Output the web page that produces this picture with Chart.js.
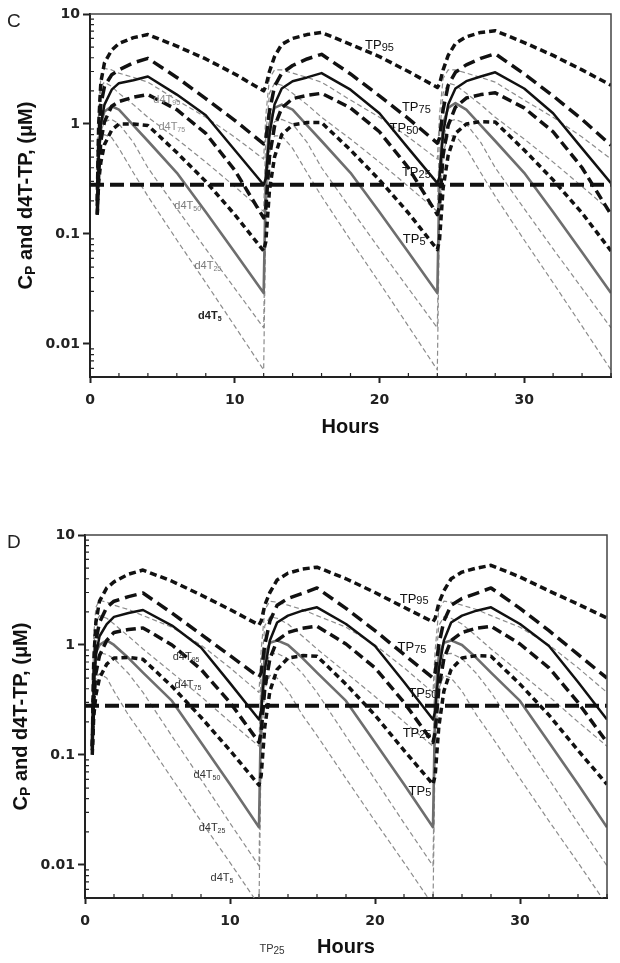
<!DOCTYPE html>
<html lang="en">
<head>
<meta charset="UTF-8" />
<title>Cp and d4T-TP</title>
<style>
  body { margin: 0; background: #fff; }
  canvas { position: absolute; left: 0; }
  #chartC { top: 0; }
  #chartD { top: 470px; }
</style>
</head>
<body>
<canvas id="chartC" width="620" height="470"></canvas>
<canvas id="chartD" width="620" height="493"></canvas>

<script src="https://cdn.jsdelivr.net/npm/chart.js"></script>
<script>
// time grid (hours) shared by every curve
const hours = [0.5, 0.6, 0.75, 1, 1.5, 2, 3, 4, 6, 8, 10, 12,
  12.15, 12.4, 12.75, 13.25, 14, 15, 16, 18, 20, 22, 24,
  24.15, 24.4, 24.75, 25.25, 26, 27, 28, 30, 32, 34, 36];

// panel C
const tp95C = [0.2, 1.0, 2.4, 3.6, 4.7, 5.4, 6.1, 6.5, 5.1, 3.9, 2.85, 2.0,
  2.2, 3.0, 4.1, 5.3, 6.0, 6.5, 6.8, 5.3, 4.1, 3.0, 2.15,
  2.3, 3.1, 4.2, 5.4, 6.2, 6.8, 7.05, 5.5, 4.2, 3.1, 2.25];
const tp75C = [0.18, 0.7, 1.5, 2.2, 2.8, 3.1, 3.6, 3.95, 2.65, 1.7, 1.08, 0.66,
  0.72, 1.3, 2.2, 2.9, 3.4, 3.9, 4.3, 2.85, 1.8, 1.12, 0.67,
  0.74, 1.35, 2.25, 2.95, 3.45, 3.95, 4.35, 2.85, 1.8, 1.1, 0.64];
const tp50C = [0.15, 0.5, 1.0, 1.5, 2.05, 2.35, 2.5, 2.7, 1.85, 1.2, 0.58, 0.28,
  0.32, 0.8, 1.5, 2.1, 2.45, 2.65, 2.9, 2.05, 1.25, 0.6, 0.29,
  0.33, 0.82, 1.5, 2.1, 2.45, 2.7, 2.95, 2.1, 1.25, 0.6, 0.29];
const tp25C = [0.15, 0.35, 0.7, 1.05, 1.45, 1.6, 1.75, 1.85, 1.35, 0.82, 0.38, 0.14,
  0.17, 0.5, 0.95, 1.4, 1.7, 1.82, 1.9, 1.4, 0.85, 0.4, 0.15,
  0.18, 0.52, 0.97, 1.42, 1.72, 1.85, 1.92, 1.4, 0.85, 0.4, 0.15];
const tp5C = [0.15, 0.3, 0.45, 0.65, 0.88, 1.0, 1.0, 0.97, 0.55, 0.3, 0.15, 0.07,
  0.085, 0.25, 0.5, 0.8, 0.98, 1.03, 1.03, 0.58, 0.31, 0.155, 0.072,
  0.088, 0.26, 0.52, 0.82, 1.0, 1.05, 1.04, 0.58, 0.31, 0.155, 0.07];
const d4t95C = [0.3, 1.5, 2.6, 3.2, 3.1, 2.9, 2.65, 2.4, 1.65, 1.15, 0.76, 0.48,
  1.2, 2.6, 3.1, 3.1, 2.9, 2.65, 2.4, 1.65, 1.15, 0.76, 0.48,
  1.2, 2.6, 3.1, 3.1, 2.9, 2.65, 2.4, 1.65, 1.15, 0.76, 0.48];
const d4t75C = [0.25, 1.2, 2.2, 2.4, 2.2, 1.9, 1.5, 1.15, 0.73, 0.45, 0.27, 0.16,
  0.8, 1.9, 2.35, 2.25, 1.9, 1.5, 1.15, 0.73, 0.45, 0.27, 0.16,
  0.8, 1.9, 2.35, 2.25, 1.9, 1.5, 1.15, 0.73, 0.45, 0.27, 0.16];
const d4t50C = [0.2, 0.6, 1.0, 1.3, 1.45, 1.35, 0.97, 0.7, 0.36, 0.158, 0.068, 0.029,
  0.35, 1.0, 1.4, 1.5, 1.35, 0.97, 0.7, 0.36, 0.158, 0.068, 0.029,
  0.35, 1.0, 1.4, 1.55, 1.35, 0.97, 0.7, 0.36, 0.158, 0.068, 0.029];
const d4t25C = [0.2, 0.5, 0.85, 1.05, 1.1, 1.0, 0.68, 0.4, 0.17, 0.073, 0.032, 0.014,
  0.25, 0.75, 1.05, 1.1, 1.0, 0.68, 0.4, 0.17, 0.073, 0.032, 0.014,
  0.25, 0.75, 1.05, 1.1, 1.0, 0.68, 0.4, 0.17, 0.073, 0.032, 0.014];
const d4t5C = [0.15, 0.4, 0.7, 0.8, 0.75, 0.6, 0.36, 0.22, 0.088, 0.036, 0.0145, 0.0058,
  0.15, 0.55, 0.78, 0.78, 0.6, 0.36, 0.22, 0.088, 0.036, 0.0145, 0.0058,
  0.15, 0.55, 0.78, 0.78, 0.6, 0.36, 0.22, 0.088, 0.036, 0.0145, 0.0058];

// panel D
const tp95D = [0.12, 0.7, 1.6, 2.5, 3.3, 3.75, 4.4, 4.8, 3.8, 2.85, 2.1, 1.52,
  1.65, 2.3, 3.0, 3.9, 4.5, 4.9, 5.1, 4.0, 3.0, 2.2, 1.62,
  1.75, 2.4, 3.1, 4.0, 4.6, 5.0, 5.3, 4.15, 3.1, 2.35, 1.76];
const tp75D = [0.12, 0.5, 1.1, 1.6, 2.2, 2.5, 2.75, 2.97, 1.95, 1.25, 0.8, 0.51,
  0.56, 1.0, 1.65, 2.3, 2.65, 2.95, 3.3, 2.15, 1.35, 0.82, 0.5,
  0.56, 1.0, 1.65, 2.3, 2.65, 2.95, 3.3, 2.15, 1.35, 0.82, 0.5];
const tp50D = [0.11, 0.4, 0.8, 1.2, 1.55, 1.8, 1.95, 2.08, 1.5, 0.95, 0.45, 0.21,
  0.25, 0.6, 1.1, 1.6, 1.85, 2.05, 2.2, 1.55, 0.98, 0.46, 0.21,
  0.25, 0.6, 1.1, 1.6, 1.85, 2.05, 2.2, 1.55, 0.98, 0.46, 0.21];
const tp25D = [0.11, 0.3, 0.55, 0.8, 1.1, 1.3, 1.38, 1.43, 1.0, 0.6, 0.3, 0.13,
  0.16, 0.4, 0.75, 1.1, 1.3, 1.42, 1.48, 1.02, 0.62, 0.3, 0.13,
  0.16, 0.4, 0.75, 1.1, 1.3, 1.42, 1.48, 1.02, 0.62, 0.3, 0.13];
const tp5D = [0.1, 0.22, 0.35, 0.5, 0.67, 0.76, 0.77, 0.74, 0.42, 0.22, 0.11, 0.053,
  0.065, 0.18, 0.38, 0.6, 0.76, 0.8, 0.79, 0.44, 0.23, 0.11, 0.054,
  0.065, 0.18, 0.38, 0.6, 0.76, 0.8, 0.79, 0.44, 0.23, 0.11, 0.054];
const d4t95D = [0.25, 1.2, 2.2, 2.55, 2.45, 2.3, 2.1, 1.85, 1.45, 1.0, 0.62, 0.37,
  0.9, 2.1, 2.5, 2.45, 2.3, 2.1, 1.85, 1.45, 1.0, 0.62, 0.37,
  0.9, 2.1, 2.5, 2.45, 2.3, 2.1, 1.85, 1.45, 1.0, 0.62, 0.37];
const d4t75D = [0.2, 0.9, 1.6, 1.85, 1.75, 1.55, 1.2, 0.92, 0.56, 0.34, 0.2, 0.12,
  0.6, 1.5, 1.8, 1.75, 1.55, 1.2, 0.92, 0.56, 0.34, 0.2, 0.12,
  0.6, 1.5, 1.8, 1.75, 1.55, 1.2, 0.92, 0.56, 0.34, 0.2, 0.12];
const d4t50D = [0.15, 0.5, 0.85, 1.0, 1.1, 1.0, 0.76, 0.56, 0.31, 0.13, 0.054, 0.022,
  0.3, 0.8, 1.05, 1.1, 1.0, 0.76, 0.56, 0.31, 0.13, 0.054, 0.022,
  0.3, 0.8, 1.05, 1.1, 1.0, 0.76, 0.56, 0.31, 0.13, 0.054, 0.022];
const d4t25D = [0.12, 0.4, 0.7, 0.85, 0.82, 0.75, 0.55, 0.37, 0.148, 0.06, 0.024, 0.0098,
  0.2, 0.6, 0.82, 0.84, 0.75, 0.55, 0.37, 0.148, 0.06, 0.024, 0.0098,
  0.2, 0.6, 0.82, 0.84, 0.75, 0.55, 0.37, 0.148, 0.06, 0.024, 0.0098];
const d4t5D = [0.1, 0.3, 0.5, 0.55, 0.5, 0.38, 0.23, 0.15, 0.061, 0.025, 0.0105, 0.0043,
  0.12, 0.4, 0.53, 0.5, 0.38, 0.23, 0.15, 0.061, 0.025, 0.0105, 0.0043,
  0.12, 0.4, 0.53, 0.5, 0.38, 0.23, 0.15, 0.061, 0.025, 0.0105, 0.0043];

// target line
const targetHours = [0, 36];
const targetC = [0.28, 0.28];
const targetD = [0.28, 0.28];

// axis ticks
const xTicks = [0, 2, 4, 6, 8, 10, 12, 14, 16, 18, 20, 22, 24, 26, 28, 30, 32, 34, 36];
const xMajor = [0, 10, 20, 30];
const yTicks = [0.005, 0.006, 0.007, 0.008, 0.009, 0.01, 0.02, 0.03, 0.04, 0.05, 0.06, 0.07, 0.08, 0.09,
  0.1, 0.2, 0.3, 0.4, 0.5, 0.6, 0.7, 0.8, 0.9, 1, 2, 3, 4, 5, 6, 7, 8, 9, 10];
const yMajor = [0.01, 0.1, 1, 10];

// line styles
const STY = {
  tp95: { color: '#111', width: 3.5, dash: [7, 4] },
  tp75: { color: '#111', width: 3.5, dash: [12, 6] },
  tp50: { color: '#111', width: 2.5, dash: [] },
  tp25: { color: '#111', width: 3.5, dash: [10, 5] },
  tp5:  { color: '#111', width: 3.5, dash: [6, 4] },
  d4t:  { color: '#8c8c8c', width: 1.2, dash: [5, 3] },
  d4t50:{ color: '#6e6e6e', width: 2.6, dash: [] },
  target: { color: '#111', width: 4, dash: [14, 6] }
};

function series(vals, sty, xs) {
  xs = xs || hours;
  return {
    data: xs.map((t, i) => ({ x: t, y: vals[i] })),
    borderColor: sty.color,
    borderWidth: sty.width,
    borderDash: sty.dash,
    borderCapStyle: 'butt',
    borderJoinStyle: 'round',
    pointRadius: 0,
    fill: false,
    tension: 0
  };
}

function textSub(ctx, cx, cy, main, sub, l) {
  ctx.save();
  ctx.fillStyle = l.color;
  ctx.textBaseline = 'middle';
  ctx.textAlign = 'left';
  const mf = (l.weight || 'normal') + ' ' + l.size + 'px "Liberation Sans", Arial, sans-serif';
  const sf = (l.weight || 'normal') + ' ' + l.subSize + 'px "Liberation Sans", Arial, sans-serif';
  ctx.font = mf; const w1 = ctx.measureText(main).width;
  ctx.font = sf; const w2 = ctx.measureText(sub).width;
  let x = cx - (w1 + w2) / 2;
  ctx.font = mf; ctx.fillText(main, x, cy);
  ctx.font = sf; ctx.fillText(sub, x + w1, cy + l.subDy);
  ctx.restore();
}

const decor = {
  id: 'decor',
  afterDraw(chart) {
    const { ctx, chartArea: a, scales: { x, y } } = chart;
    const o = chart.options.plugins.decor;
    ctx.save();
    // frame top / right
    ctx.strokeStyle = '#444';
    ctx.lineWidth = 1.5;
    ctx.beginPath();
    ctx.moveTo(a.left, a.top); ctx.lineTo(a.right, a.top); ctx.lineTo(a.right, a.bottom);
    ctx.stroke();
    // inward minor ticks
    ctx.strokeStyle = '#222';
    ctx.lineWidth = 1.2;
    ctx.beginPath();
    xTicks.filter(v => !xMajor.includes(v)).forEach(v => {
      const px = x.getPixelForValue(v);
      ctx.moveTo(px, a.bottom); ctx.lineTo(px, a.bottom - 4);
    });
    yTicks.filter(v => !yMajor.includes(v)).forEach(v => {
      const py = y.getPixelForValue(v);
      ctx.moveTo(a.left, py); ctx.lineTo(a.left + 4, py);
    });
    ctx.stroke();
    ctx.restore();

    // curve labels
    o.labels.forEach(l => {
      textSub(ctx, x.getPixelForValue(l.t), y.getPixelForValue(l.v), l.main, l.sub, l);
    });

    // y axis title with subscript P
    ctx.save();
    const cyT = (a.top + a.bottom) / 2;
    ctx.translate(a.left - 64, cyT);
    ctx.rotate(-Math.PI / 2);
    ctx.fillStyle = '#111';
    ctx.textBaseline = 'middle';
    ctx.textAlign = 'left';
    const big = 'bold 20px "Liberation Sans", Arial, sans-serif';
    const small = 'bold 14px "Liberation Sans", Arial, sans-serif';
    const rest = ' and d4T-TP, (\u03BCM)';
    ctx.font = big; const wc = ctx.measureText('C').width; const wr = ctx.measureText(rest).width;
    ctx.font = small; const wp = ctx.measureText('P').width;
    let sx = -(wc + wp + wr) / 2;
    ctx.font = big; ctx.fillText('C', sx, 0);
    ctx.font = small; ctx.fillText('P', sx + wc, 5);
    ctx.font = big; ctx.fillText(rest, sx + wc + wp, 0);
    ctx.restore();

    // panel letter
    ctx.save();
    ctx.fillStyle = '#222';
    ctx.font = '19px "Liberation Sans", Arial, sans-serif';
    ctx.textBaseline = 'middle';
    ctx.fillText(o.letter, 7, a.top + 8);
    ctx.restore();

    (o.extra || []).forEach(l => {
      textSub(ctx, x.getPixelForValue(l.t), a.bottom + l.dy, l.main, l.sub, l);
    });
  }
};

function tpLab(sub, t, v) {
  return { main: 'TP', sub, t, v, size: 13, subSize: 11, subDy: 2, color: '#111' };
}
function dLab(sub, t, v, color, weight) {
  return { main: 'd4T', sub, t, v, size: 11, subSize: 7, subDy: 3, color, weight };
}

function makeChart(id, area, sets, opts) {
  const cv = document.getElementById(id);
  const W = cv.width, H = cv.height;
  return new Chart(cv, {
    type: 'line',
    data: { datasets: sets },
    options: {
      responsive: false,
      animation: false,
      events: [],
      layout: { padding: { left: 0, right: W - area.right, top: area.top, bottom: H - area.titleBottom } },
      plugins: { legend: { display: false }, tooltip: { enabled: false }, decor: opts },
      scales: {
        x: {
          type: 'linear', min: 0, max: 36,
          afterFit: s => { s.height = area.titleBottom - area.bottom; },
          afterBuildTicks: s => { s.ticks = xTicks.map(v => ({ value: v })); },
          border: { color: '#222', width: 2 },
          grid: {
            drawOnChartArea: false, tickLength: 6, tickWidth: 2,
            tickColor: c => (c.tick && xMajor.includes(c.tick.value)) ? '#222' : 'rgba(0,0,0,0)'
          },
          ticks: {
            autoSkip: false, maxRotation: 0, padding: 9, color: '#222',
            font: { family: 'DejaVu Sans', weight: 'bold', size: 14 },
            callback: v => xMajor.includes(v) ? String(v) : ''
          },
          title: {
            display: true, text: 'Hours', color: '#111', padding: 0,
            font: { family: 'Liberation Sans', weight: 'bold', size: 20 }
          }
        },
        y: {
          type: 'logarithmic', min: 0.005, max: 10,
          afterFit: s => { s.width = area.left; },
          afterBuildTicks: s => { s.ticks = yTicks.map(v => ({ value: v })); },
          border: { color: '#222', width: 2 },
          grid: {
            drawOnChartArea: false, tickLength: 7, tickWidth: 2,
            tickColor: c => (c.tick && yMajor.includes(c.tick.value)) ? '#222' : 'rgba(0,0,0,0)'
          },
          ticks: {
            autoSkip: false, padding: 3, color: '#222',
            font: { family: 'DejaVu Sans', weight: 'bold', size: 14 },
            callback: v => yMajor.includes(v) ? String(v) : ''
          }
        }
      }
    },
    plugins: [decor]
  });
}

makeChart('chartC', { left: 90, right: 612, top: 14, bottom: 377, titleBottom: 439 }, [
  series(tp95C, STY.tp95),
  series(tp75C, STY.tp75),
  series(tp50C, STY.tp50),
  series(tp25C, STY.tp25),
  series(tp5C, STY.tp5),
  series(targetC, STY.target, targetHours),
  series(d4t95C, STY.d4t),
  series(d4t75C, STY.d4t),
  series(d4t50C, STY.d4t50),
  series(d4t25C, STY.d4t),
  series(d4t5C, STY.d4t)
], {
  letter: 'C',
  labels: [
    tpLab('95', 20.0, 5.17), tpLab('75', 22.55, 1.41), tpLab('50', 21.7, 0.91),
    tpLab('25', 22.55, 0.362), tpLab('5', 22.4, 0.089),
    dLab('95', 5.3, 1.64, '#8a8a8a'), dLab('75', 5.65, 0.93, '#8a8a8a'),
    dLab('50', 6.75, 0.178, '#7a7a7a'), dLab('25', 8.14, 0.0507, '#7a7a7a'),
    dLab('5', 8.28, 0.0178, '#222', 'bold')
  ]
});

makeChart('chartD', { left: 85, right: 607, top: 65, bottom: 428, titleBottom: 489 }, [
  series(tp95D, STY.tp95),
  series(tp75D, STY.tp75),
  series(tp50D, STY.tp50),
  series(tp25D, STY.tp25),
  series(tp5D, STY.tp5),
  series(targetD, STY.target, targetHours),
  series(d4t95D, STY.d4t),
  series(d4t75D, STY.d4t),
  series(d4t50D, STY.d4t50),
  series(d4t25D, STY.d4t),
  series(d4t5D, STY.d4t)
], {
  letter: 'D',
  labels: [
    tpLab('95', 22.7, 2.62), tpLab('75', 22.55, 0.94), tpLab('50', 23.3, 0.366),
    tpLab('25', 22.9, 0.158), tpLab('5', 23.1, 0.047),
    dLab('95', 6.97, 0.78, '#333'), dLab('75', 7.1, 0.433, '#333'),
    dLab('50', 8.41, 0.066, '#333'), dLab('25', 8.76, 0.0217, '#333'),
    dLab('5', 9.45, 0.0076, '#333')
  ],
  extra: [
    { main: 'TP', sub: '25', t: 12.9, dy: 51, size: 11, subSize: 10, subDy: 2, color: '#333' }
  ]
});
</script>
</body>
</html>
